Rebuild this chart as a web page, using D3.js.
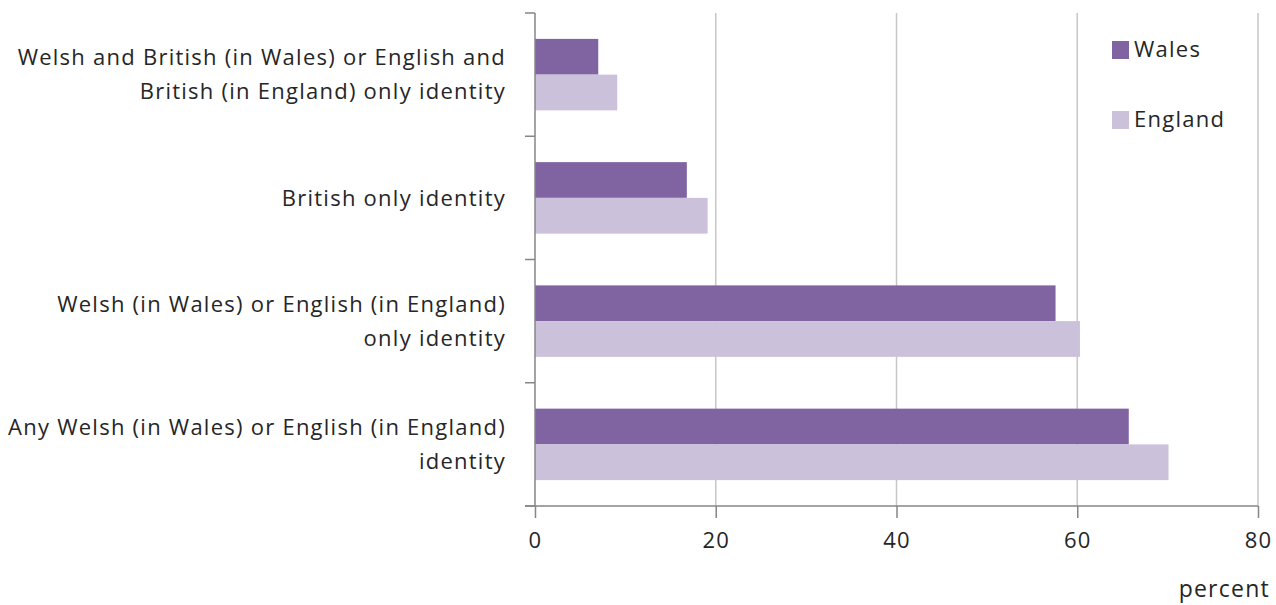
<!DOCTYPE html>
<html>
<head>
<meta charset="utf-8">
<script src="https://cdn.jsdelivr.net/npm/d3@7"></script>
<style>
  body { margin: 0; background: #fff; }
  text { font-family: "Open Sans", sans-serif; fill: #262626; letter-spacing: 1.25px; }
</style>
</head>
<body>
<div id="chart"></div>
<script>
// categories top to bottom, each label split over lines
var categories = [
    ["Welsh and British (in Wales) or English and", "British (in England) only identity"],
    ["British only identity"],
    ["Welsh (in Wales) or English (in England)", "only identity"],
    ["Any Welsh (in Wales) or English (in England)", "identity"]
];
var series = ["Wales", "England"];
var walesValues = [7.0, 16.8, 57.6, 65.7];
var englandValues = [9.1, 19.1, 60.3, 70.1];
var xTicks = [0, 20, 40, 60, 80];

var width = 1276, height = 605;
var margin = {top: 13, right: 18, bottom: 99, left: 535};
var colors = {"Wales": "#8064a2", "England": "#ccc1da"};
var font = "\"Open Sans\", sans-serif";

var svg = d3.select("#chart")
    .append("svg")
        .attr("width", width)
        .attr("height", height);

var x = d3.scaleLinear()
    .domain([0, 80])
    .range([margin.left, width - margin.right]);

var y = d3.scaleBand()
    .domain(d3.range(categories.length))
    .range([margin.top, height - margin.bottom])
    .paddingInner(0.42)
    .paddingOuter(0.21);

var ySub = d3.scaleBand()
    .domain(series)
    .range([0, y.bandwidth()]);

var plotTop = margin.top, plotBottom = height - margin.bottom;

// gridlines
svg.append("g").attr("class", "grid")
    .selectAll("line")
    .data(xTicks.filter(function(d) { return d > 0 }))
    .enter()
    .append("line")
        .attr("x1", function(d) { return x(d) })
        .attr("x2", function(d) { return x(d) })
        .attr("y1", plotTop)
        .attr("y2", plotBottom)
        .attr("stroke", "#c6c6c6")
        .attr("stroke-width", 1.5);

var data = [];
for (let i = 0; i < categories.length; i++) {
    data.push({cat: i, series: "Wales", value: walesValues[i]});
    data.push({cat: i, series: "England", value: englandValues[i]});
}

svg.append("g").attr("class", "bars")
    .selectAll("rect")
    .data(data)
    .enter()
    .append("rect")
        .attr("x", x(0))
        .attr("y", function(d) { return y(d.cat) + ySub(d.series) })
        .attr("width", function(d) { return x(d.value) - x(0) })
        .attr("height", ySub.bandwidth())
        .attr("fill", function(d) { return colors[d.series] });

// x axis
var xAxis = svg.append("g")
    .attr("transform", "translate(0," + plotBottom + ")")
    .call(d3.axisBottom(x).tickValues(xTicks).tickSize(12).tickSizeOuter(0).tickPadding(14));
xAxis.select(".domain").attr("stroke", "#868686").attr("stroke-width", 1.5)
    .attr("d", "M" + (margin.left - 10) + ",0H" + x(80));
xAxis.selectAll(".tick line").attr("stroke", "#868686").attr("stroke-width", 1.5);
xAxis.selectAll(".tick text")
    .style("font-family", font)
    .style("font-size", "22px")
    .attr("fill", "#262626");

// y axis: line with ticks at band boundaries
var step = y.step();
var bounds = d3.range(categories.length + 1).map(function(i) { return plotTop + i * step });
svg.append("line")
    .attr("x1", x(0)).attr("x2", x(0))
    .attr("y1", plotTop).attr("y2", plotBottom)
    .attr("stroke", "#868686").attr("stroke-width", 1.5);
svg.append("g").selectAll("line")
    .data(bounds)
    .enter()
    .append("line")
        .attr("x1", x(0) - 10).attr("x2", x(0))
        .attr("y1", function(d) { return d }).attr("y2", function(d) { return d })
        .attr("stroke", "#868686").attr("stroke-width", 1.5);

// category labels
var lineH = 34;
var labels = svg.append("g").attr("class", "labels");
categories.forEach(function(lines, i) {
    var cy = y(i) + y.bandwidth() / 2;
    var t = labels.append("text")
        .attr("text-anchor", "end")
        .attr("font-size", "22px");
    lines.forEach(function(s, j) {
        t.append("tspan")
            .attr("x", 506)
            .attr("y", cy + (j - (lines.length - 1) / 2) * lineH)
            .attr("dy", "0.35em")
            .text(s);
    });
});

// legend
var legend = svg.append("g").attr("class", "legend")
    .selectAll("g")
    .data(series)
    .enter()
    .append("g")
        .attr("transform", function(d, i) { return "translate(1112," + (41 + i * 70) + ")" });
legend.append("rect")
    .attr("width", 17).attr("height", 18)
    .attr("fill", function(d) { return colors[d] });
legend.append("text")
    .attr("x", 22).attr("y", 8).attr("dy", "0.35em")
    .attr("font-size", "22px")
    .text(function(d) { return d });

// axis title
svg.append("text")
    .attr("x", 1270).attr("y", 589).attr("dy", "0.35em")
    .attr("text-anchor", "end")
    .attr("font-size", "23px")
    .text("percent");
</script>
</body>
</html>
